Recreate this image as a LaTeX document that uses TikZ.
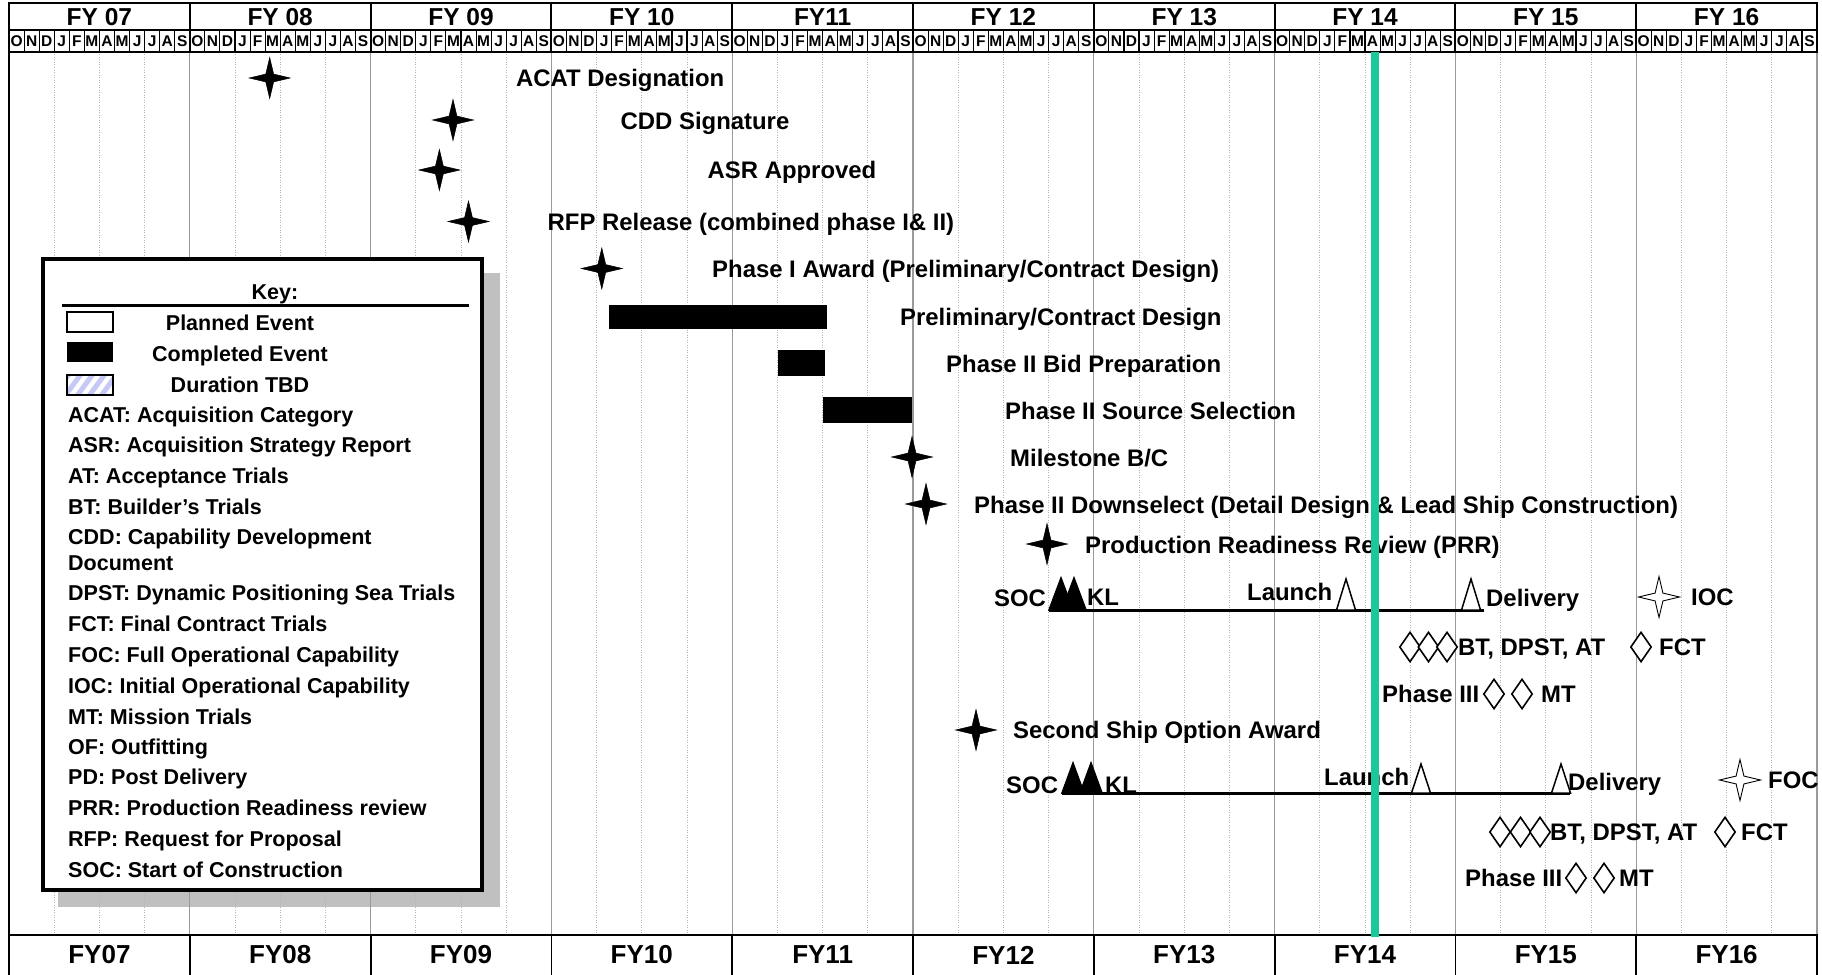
\documentclass[tikz,border=0pt]{standalone}
\usepackage{fontspec}
\setmainfont{Liberation Sans}
\usepackage{tikz}
\usetikzlibrary{shapes.geometric}
\definecolor{gctoday} {HTML}{19C99A}
\definecolor{gcgrid}  {HTML}{9A9A9A}
\definecolor{gcdot}   {HTML}{B4B4B4}
\definecolor{gcshadow}{HTML}{C0C0C0}
\definecolor{gcstripe}{HTML}{C6C8F6}
\tikzset{
  gchead/.style={font=\fontsize{24.5}{28}\selectfont\bfseries, inner sep=0pt},
  gcmonth/.style={font=\fontsize{15.5}{17}\selectfont\bfseries, inner sep=0pt},
  gcfoot/.style={font=\fontsize{26}{30}\selectfont\bfseries, inner sep=0pt},
  gclabel/.style={font=\fontsize{23.9}{28}\selectfont\bfseries, inner sep=0pt,
                  anchor=west, text height=17.1pt, text depth=0pt},
  gckey/.style={font=\fontsize{21.5}{25}\selectfont\bfseries, inner sep=0pt,
                anchor=west, text height=15.4pt, text depth=0pt},
  gckeyc/.style={gckey, anchor=center},
  gcstar/.style={star, star points=4, star point ratio=3.7, minimum size=41pt,
                 inner sep=0pt, draw=black, fill=black, line width=0.5pt},
  gcopenstar/.style={gcstar, fill=white, line width=0.9pt},
  gcdiamond/.style={diamond, minimum width=21pt, minimum height=30pt, inner sep=0pt,
                    draw=black, fill=white, line width=1.6pt},
  gcbar/.style={fill=black},
  gcyear/.style={draw=gcgrid, line width=1.2pt},
  gcquarter/.style={draw=gcdot, line width=0.8pt, dash pattern=on 1pt off 1.5pt},
  gcship/.style={draw=black, line width=3pt},
}
% apex x, base y, half width, height, fill
\newcommand{\gctri}[5]{%
  \filldraw[fill=#5, draw=black, line width=1.5pt, line join=miter]
    (#1-#3,#2) -- (#1,#2-#4) -- (#1+#3,#2) -- cycle;}

\begin{document}
\begin{tikzpicture}[x=1pt,y=-1pt]
  \useasboundingbox (0,0) rectangle (1822,974);
  \fill[white] (0,0) rectangle (1822,974);

  % key shadow, then grid
  \fill[gcshadow] (58,273) rectangle (500,907);
  \foreach \yr in {0,...,9}
    \foreach \qq in {1,2,3}
      {\draw[gcquarter] ({9+180.8*\yr+45.2*\qq},52) -- ({9+180.8*\yr+45.2*\qq},935);}
  \foreach \yr in {1,...,10}
    {\draw[gcyear] ({9+180.8*\yr},52) -- ({9+180.8*\yr},935);}
  \draw[line width=2pt] (9,52) -- (9,935);

  % key
  \draw[line width=3.5pt, fill=white] (43,259) rectangle (482,890);
  \node[gckeyc] (keyhead) at (275,292) {Key:};
  \draw[line width=2.7pt] (62,305.5) -- (469,305.5);
  \draw[line width=1.3pt, fill=white] (67,312) rectangle (113,332);
  \fill[black] (67,342) rectangle (113,362);
  \begin{scope}
    \clip (67,375) rectangle (113,395);
    \foreach \s in {-2,...,5}
      {\draw[gcstripe, line width=5pt] ({50+12*\s},400) -- ({72+12*\s},370);}
  \end{scope}
  \draw[line width=1.3pt] (67,375) rectangle (113,395);
  \node[gckeyc] (key-plan) at (240,322.5) {Planned Event};
  \node[gckeyc] (key-done) at (240,353.5) {Completed Event};
  \node[gckeyc] (key-tbd)  at (240,385) {Duration TBD};
  \foreach \ky/\kt [count=\i] in {
      415/ACAT: Acquisition Category,
      445/ASR: Acquisition Strategy Report,
      476/AT: Acceptance Trials,
      507/BT: Builder’s Trials,
      537/CDD: Capability Development,
      563/Document,
      593/DPST: Dynamic Positioning Sea Trials,
      624/FCT: Final Contract Trials,
      655/FOC: Full Operational Capability,
      686/IOC: Initial Operational Capability,
      717/MT: Mission Trials,
      747/OF: Outfitting,
      777/PD: Post Delivery,
      808/PRR: Production Readiness review,
      839/RFP: Request for Proposal,
      870/SOC: Start of Construction}
    {\node[gckey] (key\i) at (68,\ky) {\kt};}

  % early milestones
  \foreach \nm/\sx/\sy in {acat/269.7/78, cdd/453/120, asr/439.4/170, rfp/468.5/221.5,
      ph1/601.8/268.5, msbc/912/457, dns/926/504, prr/1047/544, ssoa/976/730}
    {\node[gcstar] (\nm) at (\sx,\sy) {};}
  \fill[gcbar] (609,305) rectangle (827,329);
  \fill[gcbar] (778,350) rectangle (825,375.5);
  \fill[gcbar] (823,397) rectangle (912,422.5);

  \node[gclabel] (acat-l) at (516,78)    {ACAT Designation};
  \node[gclabel] (cdd-l)  at (620.5,121) {CDD Signature};
  \node[gclabel] (asr-l)  at (707.5,170) {ASR Approved};
  \node[gclabel] (rfp-l)  at (547.5,222) {RFP Release (combined phase I\& II)};
  \node[gclabel] (ph1-l)  at (712,269)   {Phase I Award (Preliminary/Contract Design)};
  \node[gclabel] (prel-l) at (900,317)   {Preliminary/Contract Design};
  \node[gclabel] (bid-l)  at (946,364)   {Phase II Bid Preparation};
  \node[gclabel] (src-l)  at (1005,411)  {Phase II Source Selection};
  \node[gclabel] (msbc-l) at (1010,458)  {Milestone B/C};
  \node[gclabel] (dns-l)  at (974,505)
    {Phase II Downselect (Detail Design \& Lead Ship Construction)};
  \node[gclabel] (prr-l)  at (1085,545)  {Production Readiness Review (PRR)};
  \node[gclabel] (ssoa-l) at (1013,730)  {Second Ship Option Award};

  % lead ship
  \coordinate (s1-a) at (1049,610);
  \coordinate (s1-b) at (1484,610);
  \draw[gcship] (s1-a) -- (s1-b);
  \gctri{1061}{610}{12}{32}{black}
  \gctri{1074}{610}{12}{32}{black}
  \gctri{1346}{610}{9.5}{31}{white}
  \gctri{1471}{610}{9.5}{31}{white}
  \node[gcopenstar] (ioc) at (1659,597) {};
  \node[gclabel] (soc1-l) at (994,598)  {SOC};
  \node[gclabel] (kl1-l)  at (1087,597) {KL};
  \node[gclabel] (lau1-l) at (1247,592) {Launch};
  \node[gclabel] (del1-l) at (1486,598) {Delivery};
  \node[gclabel] (ioc-l)  at (1691,597) {IOC};
  \foreach \nm/\dx/\dy in {bt1a/1410/647, bt1b/1428.5/647, bt1c/1447/647, fct1/1641/647,
      p31a/1494/694, p31b/1522/694}
    {\node[gcdiamond] (\nm) at (\dx,\dy) {};}
  \node[gclabel] (bt1-l)  at (1458,647) {BT, DPST, AT};
  \node[gclabel] (fct1-l) at (1659,647) {FCT};
  \node[gclabel] (p31-l)  at (1382,694) {Phase III};
  \node[gclabel] (mt1-l)  at (1541,694) {MT};

  % second ship
  \coordinate (s2-a) at (1062,793);
  \coordinate (s2-b) at (1570,793);
  \draw[gcship] (s2-a) -- (s2-b);
  \gctri{1073}{793}{11}{30}{black}
  \gctri{1091}{793}{11}{30}{black}
  \gctri{1421}{793}{9.5}{29}{white}
  \gctri{1561}{793}{9.5}{29}{white}
  \node[gcopenstar] (foc) at (1740,780) {};
  \node[gclabel] (soc2-l) at (1006,785) {SOC};
  \node[gclabel] (kl2-l)  at (1105,785) {KL};
  \node[gclabel] (lau2-l) at (1324,777) {Launch};
  \node[gclabel] (del2-l) at (1568,782) {Delivery};
  \node[gclabel] (foc-l)  at (1768,780) {FOC};
  \foreach \nm/\dx/\dy in {bt2a/1500/832, bt2b/1520.5/832, bt2c/1540/832, fct2/1725/832,
      p32a/1576/878, p32b/1604/878}
    {\node[gcdiamond] (\nm) at (\dx,\dy) {};}
  \node[gclabel] (bt2-l)  at (1550,832) {BT, DPST, AT};
  \node[gclabel] (fct2-l) at (1741,832) {FCT};
  \node[gclabel] (p32-l)  at (1465,878) {Phase III};
  \node[gclabel] (mt2-l)  at (1619,878) {MT};

  % header: fiscal years and months
  \draw[line width=2.5pt] (9,3) rectangle (1817,52);
  \draw[line width=1.5pt] (9,30) -- (1817,30);
  \foreach \yr in {1,...,9}
    {\draw[line width=2pt] ({9+180.8*\yr},3) -- ({9+180.8*\yr},52);}
  \foreach \k in {1,...,119}
    {\draw[line width=1.1pt] ({9+15.067*\k},30) -- ({9+15.067*\k},52);}
  \foreach \fy [count=\i from 0] in {FY 07,FY 08,FY 09,FY 10,FY11,FY 12,FY 13,FY 14,FY 15,FY 16}
    {\node[gchead] (top\i) at ({9+180.8*(\i+0.5)},17) {\fy};}
  \foreach \yr in {0,...,9}
    \foreach \mo [count=\k from 0] in {O,N,D,J,F,M,A,M,J,J,A,S}
      {\node[gcmonth] (mo\yr-\k) at ({9+180.8*\yr+15.067*(\k+0.5)},41.5) {\mo};}

  % footer
  \draw[line width=2.5pt] (9,980) -- (9,935) -- (1817,935) -- (1817,980);
  \foreach \yr in {1,...,9}
    {\draw[line width=1.8pt] ({9+180.8*\yr},935) -- ({9+180.8*\yr},980);}
  \foreach \fy [count=\i from 0] in {FY07,FY08,FY09,FY10,FY11,FY12,FY13,FY14,FY15,FY16}
    {\node[gcfoot] (bot\i) at ({9+180.8*(\i+0.5)},955) {\fy};}

  % today line
  \coordinate (today-top) at (1375,52);
  \coordinate (today-bot) at (1375,937);
  \draw[gctoday, line width=8pt] (today-top) -- (today-bot);
\end{tikzpicture}
\end{document}
